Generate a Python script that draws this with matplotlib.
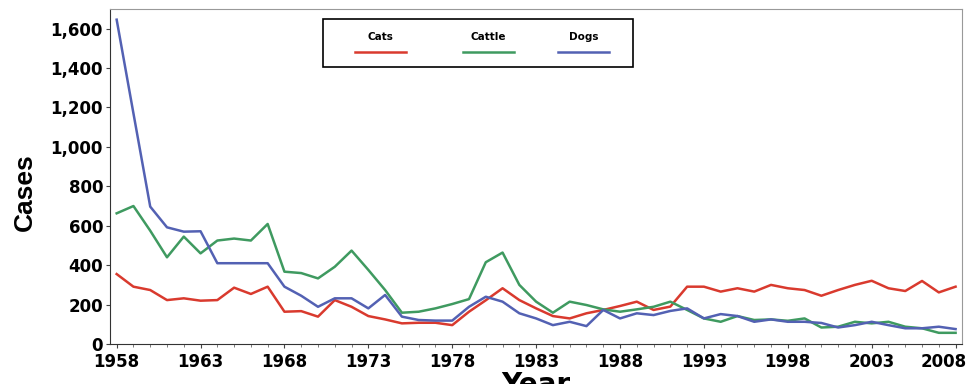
import matplotlib
matplotlib.use("Agg")
import matplotlib.pyplot as plt
from matplotlib.patches import Rectangle
from matplotlib.ticker import FuncFormatter, MultipleLocator
from matplotlib.transforms import ScaledTranslation

years = list(range(1958, 2009))

cats = [355, 291, 274, 223, 232, 220, 223, 286, 254, 291,
        164, 167, 139, 223, 189, 142, 125, 105, 108, 108,
        96, 164, 222, 283, 223, 181, 142, 130, 156, 173,
        193, 215, 173, 190, 291, 291, 266, 283, 266, 300,
        283, 274, 245, 274, 300, 321, 283, 269, 320, 262, 291]

cattle = [663, 700, 575, 440, 545, 460, 525, 535, 525, 609,
          367, 360, 333, 392, 474, 376, 274, 159, 164, 181,
          203, 228, 415, 464, 300, 215, 159, 215, 198, 176,
          164, 176, 189, 215, 173, 130, 113, 142, 122, 125,
          118, 130, 84, 88, 113, 105, 113, 88, 80, 57, 57]

dogs = [1645, 1170, 697, 592, 570, 572, 410, 410, 410, 410,
        291, 245, 189, 232, 232, 181, 249, 139, 122, 119,
        119, 189, 240, 215, 156, 130, 96, 113, 91, 173,
        130, 156, 147, 168, 181, 130, 152, 142, 113, 125,
        113, 113, 107, 84, 96, 113, 96, 80, 80, 88, 76]

series = [("Cats", cats, "#d93a2e"),
          ("Cattle", cattle, "#3f9a60"),
          ("Dogs", dogs, "#5361b3")]

bold = dict(family="DejaVu Sans", weight="bold")

fig = plt.figure(figsize=(9.73, 3.84), dpi=100)
ax = fig.add_axes([0.113, 0.104, 0.876, 0.873])

for name, vals, col in series:
    ax.plot(years, vals, color=col, lw=1.8, solid_joinstyle="round")

ax.set_xlim(1957.6, 2008.4)
ax.set_ylim(0, 1700)
ax.set_xticks(range(1958, 2009, 5))
ax.xaxis.set_minor_locator(MultipleLocator(1))
ax.set_yticks(range(0, 1601, 200))
ax.yaxis.set_major_formatter(FuncFormatter(lambda v, p: f"{int(v):,}"))

ax.tick_params(axis="x", which="major", length=3, pad=3.5, labelsize=12, color="#444")
ax.tick_params(axis="x", which="minor", length=2.5, color="#666")
ax.tick_params(axis="y", length=3, pad=2, labelsize=12, color="#444")
for lab in ax.get_xticklabels() + ax.get_yticklabels():
    lab.set_fontweight("bold")
    lab.set_family("DejaVu Sans")

# last year label is pulled left so it stays inside the picture
last = ax.get_xticklabels()[-1]
last.set_transform(last.get_transform() + ScaledTranslation(-0.12, 0, fig.dpi_scale_trans))

for side in ["left", "bottom"]:
    ax.spines[side].set_color("#333")
for side in ["top", "right"]:
    ax.spines[side].set_color("#999")

ax.set_ylabel("Cases", family="Liberation Sans", weight="bold", fontsize=19)
ax.yaxis.set_label_coords(-0.086, 0.454)
ax.set_xlabel("Year", fontsize=20, labelpad=0, **bold)

# legend box: label above a short line sample
ax.add_patch(Rectangle((0.25, 0.827), 0.364, 0.143, transform=ax.transAxes,
                       fill=False, ec="black", lw=1.2, clip_on=False))
centers = [0.317, 0.444, 0.556]
for (name, vals, col), cx in zip(series, centers):
    ax.text(cx, 0.915, name, transform=ax.transAxes, ha="center", va="center",
            fontsize=7.5, **bold)
    ax.plot([cx - 0.03, cx + 0.03], [0.872, 0.872], transform=ax.transAxes,
            color=col, lw=1.8)

fig.savefig("out.png", dpi=100)
